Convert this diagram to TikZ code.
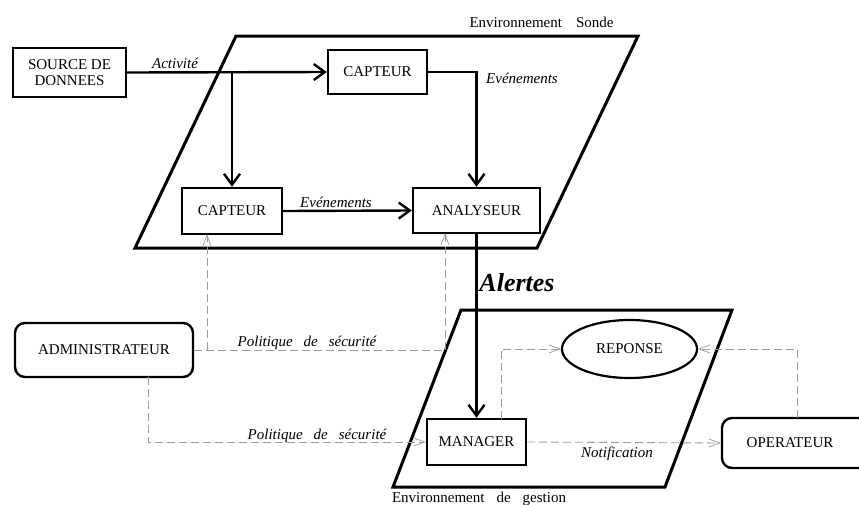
\documentclass[tikz,border=0pt]{standalone}
\usepackage{fontspec}
\setmainfont{Liberation Serif}
\usetikzlibrary{arrows.meta,shapes.geometric}
\definecolor{dashgray}{RGB}{155,155,155}
\begin{document}
\begin{tikzpicture}[x=1pt,y=-1pt,
  every node/.style={font=\fontsize{15}{16.5}\selectfont},
  box/.style={draw,line width=2.4pt,inner sep=0pt,align=center},
  roundbox/.style={box,rounded corners=10pt},
  zone/.style={line width=3pt,line join=miter},
  flow/.style={line width=2.4pt,-{Straight Barb[length=11pt,width=16pt]}},
  policy/.style={dashgray,line width=0.9pt,dash pattern=on 8pt off 4pt},
  policyarrow/.style={policy,-{Straight Barb[length=11pt,width=8pt,line width=0.7pt]}},
  lbl/.style={font=\fontsize{15}{16.5}\selectfont\itshape,anchor=base},
]
\useasboundingbox (0,0) rectangle (859,504);
\clip (0,0) rectangle (859,504);

% environments
\draw[zone] (236,36) -- (638,36) -- (537,248) -- (135,248) -- cycle;
\draw[zone] (461,310) -- (732,310) -- (665,487) -- (393,487) -- cycle;
\node[anchor=base] (envs) at (541.5,27) {Environnement\hspace{14pt}Sonde};
\node[anchor=base] (envg) at (479,502) {Environnement\hspace{12pt}de\hspace{12pt}gestion};

% components
\node[box,minimum width=113pt,minimum height=49pt] (src) at (69.5,72.5) {SOURCE DE\\DONNEES};
\node[box,minimum width=99pt,minimum height=44pt] (cap1) at (377.5,72) {CAPTEUR};
\node[box,minimum width=100pt,minimum height=46pt] (cap2) at (232,211) {CAPTEUR};
\node[box,minimum width=127pt,minimum height=45pt] (ana) at (476.5,210.5) {ANALYSEUR};
\node[box,minimum width=99pt,minimum height=46pt] (man) at (476.5,442) {MANAGER};
\node[draw,ellipse,line width=2.2pt,inner sep=0pt,minimum width=135pt,minimum height=58pt] (rep) at (629.5,349) {REPONSE};
\node[roundbox,minimum width=178pt,minimum height=54pt] (adm) at (104,350) {ADMINISTRATEUR};
\node[roundbox,minimum width=150pt,minimum height=50pt] (ope) at (797,443) {\hspace{-14pt}OPERATEUR};

% data flow
\coordinate (split) at (cap2.north |- src.east);
\draw[flow] (src.east) -- (cap1.west);
\draw[flow] (split) -- (cap2.north);
\draw[flow] (cap2.east) -- (ana.west);
\draw[flow] (cap1.east) -| (ana.north);
\draw[flow] (ana.south) -- (man.north);

\node[lbl] (lact) at (175,68) {Activité};
\node[lbl] (lev1) at (522,83) {Evénements};
\node[lbl] (lev2) at (336,207) {Evénements};
\node[anchor=base,font=\fontsize{26}{28}\selectfont\bfseries\itshape] (lal) at (517,291) {Alertes};

% security policy and control
\coordinate (capIn) at (207,234);
\coordinate (anaIn) at (445,233);
\coordinate (admOut) at (148,377);
\coordinate (manOut) at (501,419);
\coordinate (opeOut) at (797,418);
\draw[policy] (adm.east) -- (adm.east -| anaIn);
\draw[policyarrow] (adm.east -| anaIn) -- (anaIn);
\draw[policyarrow] (adm.east -| capIn) -- (capIn);
\draw[policyarrow] (admOut) |- (man.west);
\draw[policyarrow] (manOut) |- (rep.west);
\draw[policyarrow] (opeOut) |- (rep.east);
\draw[policyarrow] (man.east) -- (ope.west);

\node[lbl] (lpol1) at (307,346) {Politique\hspace{11pt}de\hspace{11pt}sécurité};
\node[lbl] (lpol2) at (317,439) {Politique\hspace{11pt}de\hspace{11pt}sécurité};
\node[lbl] (lnot) at (617,457) {Notification};
\end{tikzpicture}
\end{document}
